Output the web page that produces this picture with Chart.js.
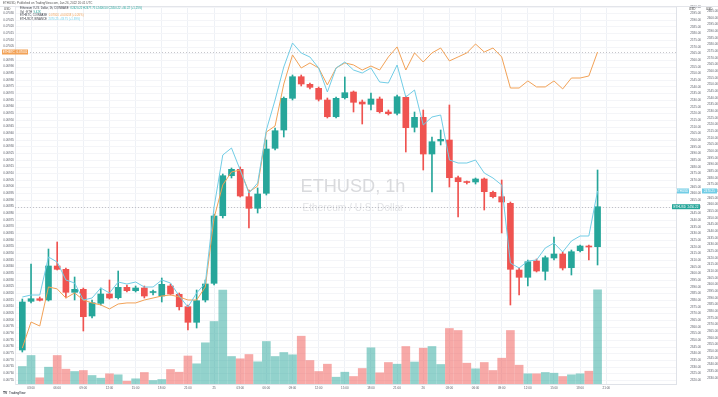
<!DOCTYPE html>
<html>
<head>
<meta charset="utf-8">
<script src="https://cdn.jsdelivr.net/npm/chart.js@4.4.1/dist/chart.umd.min.js"></script>
<style>
  html, body { margin: 0; padding: 0; background: #fff; }
  canvas { display: block; }
</style>
</head>
<body>
<canvas id="myChart" width="718" height="397"></canvas>
<script>
// Velas ETHUSD 1h (COINBASE)
const opens = [2342.75, 2379.27, 2381.22, 2380.25, 2405.75, 2403.27, 2386.02, 2388.27, 2368.25, 2377.77,
  2384.75, 2381.97, 2389.77, 2387.22, 2389.25, 2385.87, 2383.25, 2390.75, 2384.52, 2375.22,
  2363.52, 2380.25, 2392.77, 2443.47, 2473.47, 2478.27, 2457.72, 2449.02, 2460.27, 2494.02,
  2507.75, 2531.52, 2547.72, 2542.02, 2539.02, 2530.25, 2517.72, 2531.97, 2536.25, 2528.75,
  2527.02, 2531.00, 2521.25, 2520.27, 2532.27, 2509.77, 2517.27, 2489.75, 2499.50, 2500.25,
  2471.97, 2468.75, 2468.75, 2471.00, 2461.02, 2457.72, 2452.77, 2402.75, 2397.27, 2409.50,
  2401.77, 2411.75, 2414.75, 2404.47, 2417.22, 2420.75, 2420.22];
const highs = [2381.00, 2407.25, 2382.50, 2418.50, 2423.75, 2404.25, 2397.50, 2389.25, 2380.25, 2389.25,
  2395.25, 2402.00, 2391.50, 2390.75, 2390.75, 2387.75, 2396.75, 2392.25, 2385.50, 2376.50,
  2387.75, 2395.25, 2444.75, 2474.75, 2479.25, 2480.00, 2462.75, 2464.25, 2500.25, 2509.25,
  2532.50, 2549.00, 2549.00, 2543.00, 2540.00, 2531.75, 2532.50, 2547.50, 2537.00, 2530.25,
  2535.50, 2532.50, 2522.75, 2534.00, 2533.25, 2521.25, 2522.75, 2502.50, 2507.75, 2526.50,
  2473.25, 2469.50, 2471.75, 2471.75, 2462.00, 2470.25, 2453.75, 2404.25, 2410.25, 2411.00,
  2413.25, 2427.50, 2416.25, 2417.75, 2421.50, 2421.50, 2477.75];
const lows = [2341.25, 2378.00, 2379.50, 2379.50, 2402.75, 2381.75, 2380.25, 2357.00, 2366.75, 2376.50,
  2381.00, 2381.00, 2386.25, 2386.25, 2381.75, 2384.00, 2378.75, 2384.00, 2372.75, 2357.75,
  2359.25, 2378.75, 2391.50, 2441.75, 2471.75, 2457.50, 2434.25, 2445.50, 2459.00, 2492.75,
  2502.50, 2530.25, 2540.75, 2538.50, 2529.50, 2516.75, 2516.75, 2531.00, 2521.25, 2512.25,
  2522.75, 2520.50, 2519.00, 2519.00, 2491.25, 2506.25, 2477.75, 2461.25, 2496.50, 2465.00,
  2442.50, 2467.25, 2467.25, 2447.75, 2456.75, 2430.50, 2376.50, 2384.00, 2390.75, 2401.25,
  2395.25, 2410.25, 2402.75, 2399.00, 2416.25, 2410.25, 2406.50];
const closes = [2378.75, 2381.22, 2380.02, 2405.75, 2403.27, 2386.02, 2388.27, 2367.72, 2378.22, 2384.75,
  2381.75, 2389.77, 2387.22, 2389.25, 2383.25, 2386.25, 2392.02, 2384.75, 2375.22, 2363.52,
  2379.72, 2392.25, 2443.25, 2473.47, 2478.27, 2458.25, 2449.02, 2459.75, 2493.50, 2507.22,
  2531.52, 2547.72, 2542.25, 2539.77, 2530.77, 2517.72, 2531.52, 2535.72, 2528.52, 2527.25,
  2531.00, 2521.47, 2519.97, 2532.72, 2509.47, 2517.27, 2489.75, 2498.97, 2500.77, 2471.97,
  2468.97, 2468.37, 2471.00, 2461.47, 2457.72, 2453.75, 2403.27, 2397.27, 2408.97, 2402.00,
  2411.97, 2414.75, 2404.25, 2416.47, 2420.75, 2420.00, 2450.22];
const volumes = [1750, 2850, 620, 1680, 2850, 1480, 1250, 1350, 850, 580,
  1020, 920, 280, 520, 1150, 350, 450, 1450, 1180, 2800,
  2020, 4120, 6250, 9400, 2750, 2520, 2950, 2220, 4250, 2750,
  3150, 2920, 4780, 2350, 1250, 1980, 680, 1180, 750, 1550,
  3620, 1120, 2150, 1980, 3750, 2200, 3580, 3750, 1950, 5550,
  5350, 2080, 1520, 2150, 1350, 2580, 5350, 1880, 1020, 1020,
  1150, 1080, 750, 920, 1020, 1280, 9420];

// Series de comparación
const ethusdt = [2390.75, 2392.25, 2392.25, 2420.75, 2417.00, 2403.50, 2401.25, 2388.50, 2390.00, 2397.50,
  2393.75, 2402.00, 2400.50, 2402.00, 2398.25, 2398.25, 2403.50, 2401.25, 2391.50, 2383.25,
  2393.75, 2401.25, 2458.25, 2497.25, 2502.50, 2486.00, 2468.75, 2476.25, 2516.00, 2538.50,
  2563.25, 2581.25, 2573.75, 2570.75, 2562.50, 2544.50, 2562.50, 2567.00, 2561.00, 2558.75,
  2562.50, 2552.00, 2551.25, 2564.75, 2540.75, 2546.00, 2519.75, 2525.75, 2527.25, 2493.50,
  2491.25, 2491.25, 2493.50, 2483.75, 2480.00, 2474.75, 2416.25, 2412.50, 2417.75, 2418.50,
  2427.50, 2431.25, 2424.50, 2432.75, 2436.50, 2436.50, 2470.25];
const ethbtc = [0.067790, 0.067985, 0.067955, 0.068248, 0.068233, 0.068165, 0.068203, 0.068150, 0.068128, 0.068113,
  0.068083, 0.068120, 0.068128, 0.068128, 0.068150, 0.068165, 0.068180, 0.068188, 0.068173, 0.068150,
  0.068150, 0.068248, 0.068765, 0.069013, 0.069110, 0.069125, 0.068960, 0.069005, 0.069410, 0.069455,
  0.069770, 0.069988, 0.069890, 0.069928, 0.069890, 0.069763, 0.069890, 0.069928, 0.069913, 0.069875,
  0.069905, 0.069875, 0.069973, 0.070048, 0.069875, 0.070003, 0.069935, 0.070003, 0.070040, 0.069943,
  0.069973, 0.070003, 0.070070, 0.070010, 0.070040, 0.069973, 0.069740, 0.069740, 0.069793, 0.069748,
  0.069748, 0.069793, 0.069733, 0.069815, 0.069815, 0.069830, 0.070010];

// Etiquetas del eje de tiempo (índice de vela -> texto)
const tickIdx = [1, 4, 7, 10, 13, 16, 19, 22, 25, 28, 31, 34, 37, 40, 43, 46, 49, 52, 55, 58, 61, 64, 67];
const tickLabels = ["03:00", "06:00", "09:00", "12:00", "15:00", "18:00", "21:00", "25",
  "03:00", "06:00", "09:00", "12:00", "15:00", "18:00", "21:00", "26",
  "03:00", "06:00", "09:00", "12:00", "15:00", "18:00", "21:00"];

const VERDE = "#26a69a";
const ROJO = "#ef5350";
const CIAN = "#72cde6";
const NARANJA = "#f2a257";
const FAM = "'Liberation Sans', Arial, sans-serif";
const tiny = { family: FAM, size: 3 };

const up = closes.map((c, i) => c >= opens[i]);
const candleColors = up.map(u => (u ? VERDE : ROJO));
const volColors = up.map(u => (u ? "rgba(38,166,154,0.5)" : "rgba(239,83,80,0.5)"));
const last = closes.length - 1;

function stepTicks(step) {
  return function (scale) {
    const ticks = [];
    const k0 = Math.ceil(scale.min / step - 1e-6);
    const k1 = Math.floor(scale.max / step + 1e-6);
    for (let k = k0; k <= k1; k++) ticks.push({ value: k * step });
    scale.ticks = ticks;
  };
}

function tag(ctx, x1, x2, y, bg, text) {
  ctx.fillStyle = bg;
  ctx.fillRect(x1, y - 2.5, x2 - x1, 5);
  ctx.fillStyle = "#fff";
  ctx.font = "3px " + FAM;
  ctx.textAlign = "center";
  ctx.textBaseline = "middle";
  ctx.fillText(text, (x1 + x2) / 2, y + 0.2);
}

function dotted(ctx, area, y, color) {
  ctx.save();
  ctx.strokeStyle = color;
  ctx.lineWidth = 1;
  ctx.setLineDash([1, 2]);
  ctx.beginPath();
  ctx.moveTo(area.left, Math.round(y) + 0.5);
  ctx.lineTo(area.right, Math.round(y) + 0.5);
  ctx.stroke();
  ctx.restore();
}

// texto ajustado a un ancho dado
function fitText(ctx, text, x, y, width, color) {
  ctx.font = "20px " + FAM;
  const size = 20 * width / ctx.measureText(text).width;
  ctx.font = size.toFixed(2) + "px " + FAM;
  ctx.fillStyle = color;
  ctx.fillText(text, x, y);
}

function fmtVol(v) {
  return (v / 1000).toFixed(2) + "K";
}

const decor = {
  id: "decor",
  beforeDraw(chart) {
    const ctx = chart.ctx;
    ctx.save();
    ctx.fillStyle = "#fff";
    ctx.fillRect(0, 0, chart.width, chart.height);
    ctx.restore();
  },
  beforeDatasetsDraw(chart) {
    const ctx = chart.ctx;
    const a = chart.chartArea;
    ctx.save();
    ctx.textAlign = "center";
    ctx.textBaseline = "alphabetic";
    fitText(ctx, "ETHUSD, 1h", 353, 192, 105, "#d9dadd");
    fitText(ctx, "Ethereum / U.S. Dollar", 353, 210.5, 101, "#e2e3e6");
    ctx.restore();
    dotted(ctx, a, chart.scales.yO.getPixelForValue(ethbtc[last]), "rgba(130,130,140,0.45)");
    dotted(ctx, a, chart.scales.yMain.getPixelForValue(closes[last]), "rgba(130,130,140,0.45)");
  },
  afterDraw(chart) {
    const ctx = chart.ctx;
    const s = chart.scales;
    ctx.save();

    // cabecera
    ctx.font = "3px " + FAM;
    ctx.textAlign = "left";
    ctx.textBaseline = "middle";
    ctx.fillStyle = "#555";
    ctx.fillText("ETHUSD, Published on TradingView.com, Jan 26, 2022 20:41 UTC", 3, 3);
    ctx.fillStyle = "#e3e5ea";
    ctx.fillRect(0, 6, chart.width, 1);

    ctx.fillStyle = "#444";
    ctx.fillText("USD", 4, 9);
    ctx.fillText("USD", 689, 9);
    ctx.fillText("USD", 706, 9);

    // leyenda
    const chg = closes[last] - closes[last - 1];
    const pct = (chg / closes[last - 1]) * 100;
    const sign = chg >= 0 ? "+" : "";
    const rows = [
      ["Ethereum / U.S. Dollar, 1h, COINBASE", "O" + opens[last].toFixed(2) + " H" + highs[last].toFixed(2) +
        " L" + lows[last].toFixed(2) + " C" + closes[last].toFixed(2) + " " + sign + chg.toFixed(2) +
        " (" + sign + pct.toFixed(2) + "%)", VERDE, 8],
      ["Vol · ETH", fmtVol(volumes[last]), VERDE, 11.8],
      ["ETHBTC, COINBASE", ethbtc[last].toFixed(5) + " +0.00018 (+0.26%)", NARANJA, 15.3],
      ["ETHUSDT, BINANCE", ethusdt[last].toFixed(2) + " +33.75 (+1.39%)", CIAN, 18.8]
    ];
    ctx.font = "2.8px " + FAM;
    rows.forEach(r => {
      ctx.fillStyle = "#3a3d45";
      ctx.fillText(r[0], 20, r[3]);
      const w = ctx.measureText(r[0] + "  ").width;
      ctx.fillStyle = r[2];
      ctx.fillText(r[1], 20 + w, r[3]);
    });

    // etiquetas de precio en los ejes
    const yOr = s.yO.getPixelForValue(ethbtc[last]);
    tag(ctx, 2, 28, yOr, NARANJA, "ETHBTC  " + ethbtc[last].toFixed(5));
    const yCy = s.yC.getPixelForValue(ethusdt[last]);
    tag(ctx, 677, 689, yCy, CIAN, "ETHUSDT");
    tag(ctx, 702, 717, yCy, CIAN, ethusdt[last].toFixed(2));
    const yMn = s.yMain.getPixelForValue(closes[last]);
    tag(ctx, 672, 700, yMn, VERDE, "ETHUSD  " + closes[last].toFixed(2));

    // logo
    ctx.textAlign = "left";
    ctx.fillStyle = "#131722";
    ctx.font = "bold 3.4px " + FAM;
    ctx.fillText("TV", 3, 393);
    ctx.font = "3px " + FAM;
    ctx.fillText("TradingView", 9, 393);
    ctx.restore();
  }
};

const config = {
  type: "bar",
  data: {
    datasets: [
      {
        type: "line",
        label: "ETHUSDT",
        data: ethusdt.map((v, i) => ({ x: i, y: v })),
        yAxisID: "yC",
        borderColor: CIAN,
        borderWidth: 1,
        pointRadius: 0,
        order: 1
      },
      {
        type: "line",
        label: "ETHBTC",
        data: ethbtc.map((v, i) => ({ x: i, y: v })),
        yAxisID: "yO",
        borderColor: NARANJA,
        borderWidth: 1,
        pointRadius: 0,
        order: 2
      },
      {
        label: "cuerpo",
        data: opens.map((o, i) => ({ x: i, y: [o, closes[i]] })),
        yAxisID: "yMain",
        backgroundColor: candleColors,
        barThickness: 6,
        minBarLength: 1,
        grouped: false,
        order: 3
      },
      {
        label: "mecha",
        data: lows.map((l, i) => ({ x: i, y: [l, highs[i]] })),
        yAxisID: "yMain",
        backgroundColor: candleColors,
        barThickness: 1,
        grouped: false,
        order: 4
      },
      {
        label: "volumen",
        data: volumes.map((v, i) => ({ x: i, y: v })),
        yAxisID: "yV",
        backgroundColor: volColors,
        barThickness: 8,
        grouped: false,
        order: 5
      }
    ]
  },
  options: {
    responsive: false,
    animation: false,
    events: [],
    layout: { padding: { top: 7, left: 0, right: 0, bottom: 0 } },
    plugins: { legend: { display: false }, tooltip: { enabled: false } },
    scales: {
      x: {
        type: "linear",
        offset: false,
        min: -0.84,
        max: 75,
        afterBuildTicks: sc => { sc.ticks = tickIdx.map(v => ({ value: v })); },
        afterFit: sc => { sc.height = 13; },
        ticks: {
          font: tiny,
          color: "#5d606b",
          padding: 2,
          maxRotation: 0,
          autoSkip: false,
          callback: v => tickLabels[tickIdx.indexOf(v)]
        },
        grid: { color: "#eef1f6", drawTicks: false, offset: false },
        border: { color: "#dfe2e8" }
      },
      yO: {
        position: "left",
        min: 0.06752,
        max: 0.0703475,
        afterBuildTicks: stepTicks(0.00005),
        afterFit: sc => { sc.width = 15; },
        ticks: { font: tiny, color: "#5d606b", padding: 1, autoSkip: false, callback: v => v.toFixed(5) },
        grid: { display: false, drawTicks: false },
        border: { color: "#e6e8ed" }
      },
      yMain: {
        position: "right",
        weight: 0,
        min: 2317.25,
        max: 2600,
        afterBuildTicks: stepTicks(5),
        afterFit: sc => { sc.width = 25; },
        ticks: { font: tiny, color: "#5d606b", padding: 1, crossAlign: "far", autoSkip: false, callback: v => v.toFixed(2) },
        grid: { color: "#f4f5f8", drawTicks: false },
        border: { color: "#dfe2e8" }
      },
      yC: {
        position: "right",
        weight: 1,
        min: 2325.5,
        max: 2608.25,
        afterBuildTicks: stepTicks(5),
        afterFit: sc => { sc.width = 17; },
        ticks: { font: tiny, color: "#5d606b", padding: 1, crossAlign: "far", autoSkip: false, callback: v => v.toFixed(2) },
        grid: { display: false, drawTicks: false },
        border: { display: false }
      },
      yV: { display: false, min: 0, max: 37700 }
    }
  },
  plugins: [decor]
};

new Chart(document.getElementById("myChart"), config);
</script>
</body>
</html>
